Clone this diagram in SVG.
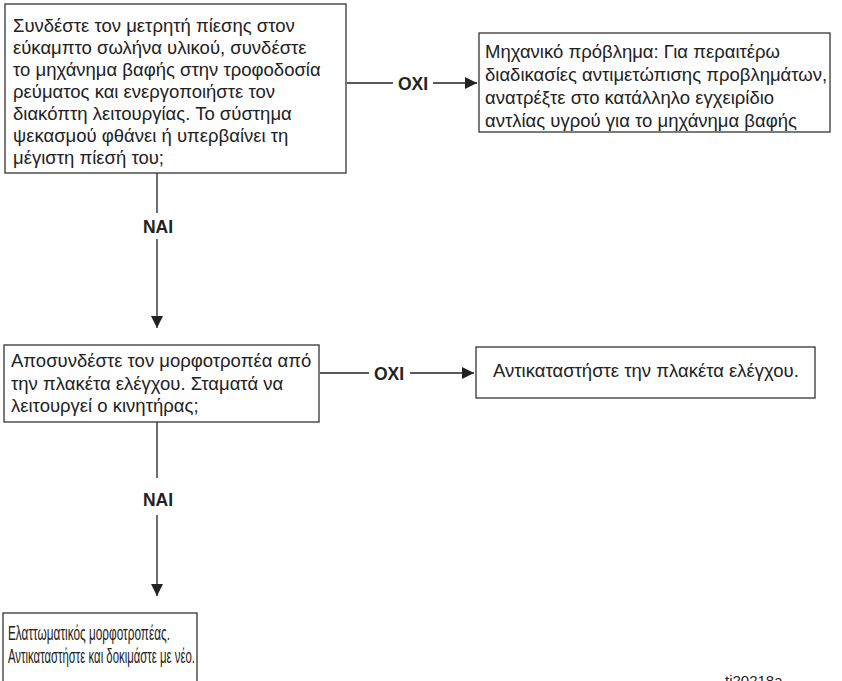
<svg xmlns="http://www.w3.org/2000/svg" width="842" height="681" viewBox="0 0 842 681">
<style>
.box{fill:#fff;stroke:#333;stroke-width:1.3}
.t{font-family:"Liberation Sans",Arial,sans-serif;font-size:18.5px;fill:#222}
.lbl{font-family:"Liberation Sans",Arial,sans-serif;font-size:17.5px;font-weight:bold;fill:#222}
.c{stroke:#222;stroke-width:1.3;fill:none}
.tc{font-family:"Liberation Sans Narrow","Liberation Sans",Arial,sans-serif;font-size:19.5px;fill:#222}
.code{font-family:"Liberation Sans",Arial,sans-serif;font-size:15px;fill:#222}
</style>
<defs>
<marker id="ah" viewBox="0 0 12 12" refX="12" refY="6" markerWidth="12" markerHeight="12" markerUnits="userSpaceOnUse" orient="auto">
<path d="M0,0 L12,6 L0,12 Z" fill="#222"/>
</marker>
</defs>
<rect width="842" height="681" fill="#fff"/>
<g id="connectors">
<path class="c" d="M347,83 H393"/>
<path class="c" d="M433,83 H477" marker-end="url(#ah)"/>
<text class="lbl" x="413" y="90" text-anchor="middle">ΟΧΙ</text>
<path class="c" d="M157,173 V213"/>
<path class="c" d="M157,239 V328" marker-end="url(#ah)"/>
<text class="lbl" x="158" y="233" text-anchor="middle">ΝΑΙ</text>
<path class="c" d="M320,373 H369"/>
<path class="c" d="M410,373 H474" marker-end="url(#ah)"/>
<text class="lbl" x="389" y="380" text-anchor="middle">ΟΧΙ</text>
<path class="c" d="M157,422 V478"/>
<path class="c" d="M157,515 V596" marker-end="url(#ah)"/>
<text class="lbl" x="158" y="506" text-anchor="middle">ΝΑΙ</text>
</g>
<g id="n1">
<rect class="box" x="5" y="4" width="341" height="169"/>
<text class="t"><tspan x="13" y="32">Συνδέστε τον μετρητή πίεσης στον</tspan><tspan x="13" y="54">εύκαμπτο σωλήνα υλικού, συνδέστε</tspan><tspan x="13" y="76">το μηχάνημα βαφής στην τροφοδοσία</tspan><tspan x="13" y="98">ρεύματος και ενεργοποιήστε τον</tspan><tspan x="13" y="120">διακόπτη λειτουργίας. Το σύστημα</tspan><tspan x="13" y="142">ψεκασμού φθάνει ή υπερβαίνει τη</tspan><tspan x="13" y="164">μέγιστη πίεσή του;</tspan></text>
</g>
<g id="n2">
<rect class="box" x="479" y="33" width="351" height="99"/>
<text class="t"><tspan x="485" y="58">Μηχανικό πρόβλημα: Για περαιτέρω</tspan><tspan x="485" y="81">διαδικασίες αντιμετώπισης προβλημάτων,</tspan><tspan x="485" y="104">ανατρέξτε στο κατάλληλο εγχειρίδιο</tspan><tspan x="485" y="127">αντλίας υγρού για το μηχάνημα βαφής</tspan></text>
</g>
<g id="n3">
<rect class="box" x="4" y="345" width="315" height="77"/>
<text class="t"><tspan x="11" y="367">Αποσυνδέστε τον μορφοτροπέα από</tspan><tspan x="11" y="389.5">την πλακέτα ελέγχου. Σταματά να</tspan><tspan x="11" y="412">λειτουργεί ο κινητήρας;</tspan></text>
</g>
<g id="n4">
<rect class="box" x="476" y="347" width="339" height="51"/>
<text class="t" x="493" y="377">Αντικαταστήστε την πλακέτα ελέγχου.</text>
</g>
<g id="n5">
<rect class="box" x="3" y="613" width="194" height="90"/>
<text class="tc"><tspan x="8" y="640" textLength="162" lengthAdjust="spacingAndGlyphs">Ελαττωματικός μορφοτροπέας.</tspan><tspan x="8" y="663" textLength="187" lengthAdjust="spacingAndGlyphs">Αντικαταστήστε και δοκιμάστε με νέο.</tspan></text>
</g>
<text class="code" x="725" y="686">ti20218a</text>
</svg>
